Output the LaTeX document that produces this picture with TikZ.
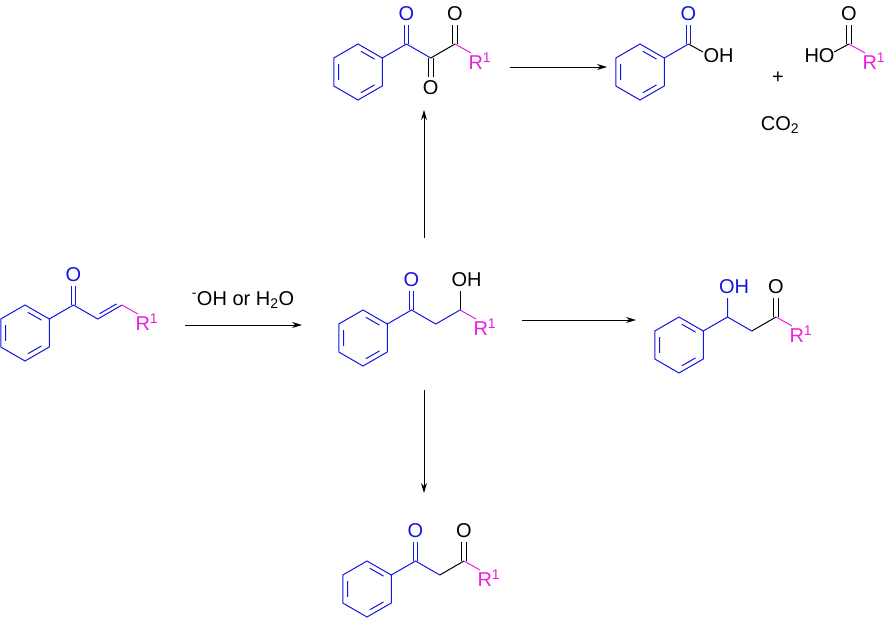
\documentclass[tikz,border=0pt]{standalone}
\usepackage{fontspec}
\setmainfont{Liberation Sans}
\definecolor{cb}{RGB}{20,20,225}
\definecolor{cp}{RGB}{235,30,225}
\usetikzlibrary{arrows.meta,calc}
\tikzset{
 benz/.pic={\draw (0,-28)--(24.25,-14)--(24.25,14)--(0,28)--(-24.25,14)--(-24.25,-14)--cycle;
  \draw (2.9,-20.7)--(16.5,-12.9) (-19.4,-7.8)--(-19.4,7.8) (16.5,12.9)--(2.9,20.7);},
 lbl/.style={font=\fontsize{20}{22}\selectfont, inner sep=1pt},
 rxn/.style={-{Stealth[length=10pt,width=6pt]}, line width=0.9pt},
}
\newcommand{\dbl}[3]{\draw[#1] ($(#2)+(-2.4,0)$)--($(#3)+(-2.4,0)$) ($(#2)+(2.4,0)$)--($(#3)+(2.4,0)$);}
\newcommand{\Rone}{R\textsuperscript{1}}
\begin{document}
\begin{tikzpicture}[x=1pt,y=-1pt,line width=1pt]
\useasboundingbox (0,0) rectangle (886,619);
% ---------- starting material
\begin{scope}[cb]
\pic at (25,333) {benz};
\coordinate (s1) at (49.25,319); \coordinate (s2) at (73.5,305);
\coordinate (s3) at (97.75,319); \coordinate (s4) at (122,305);
\draw (s1)--(s2)--(s3)--(s4);
\draw ($(s3)!0.15!(s4)+(-1.8,-3.2)$)--($(s3)!0.85!(s4)+(-1.8,-3.2)$);
\dbl{}{73.5,305}{73.5,286}
\node[lbl] (so) at (73.5,275) {O};
\end{scope}
\draw[cp] (s4)--(138,314);
\node[lbl,cp,anchor=west] (sr) at (134,322) {\Rone};
% ---------- middle
\begin{scope}[cb]
\pic at (363,338) {benz};
\coordinate (m1) at (387.25,324); \coordinate (m2) at (411.5,310);
\coordinate (m3) at (435.75,324); \coordinate (m4) at (460,310);
\draw (m1)--(m2)--(m3)--(m4);
\dbl{}{411.5,310}{411.5,291}
\node[lbl] (mo) at (411.5,280) {O};
\end{scope}
\draw (m4)--(460,291);
\node[lbl,anchor=west] (moh) at (450,280) {OH};
\draw[cp] (m4)--(476,319);
\node[lbl,cp,anchor=west] (mr) at (472,327) {\Rone};
% ---------- top triketone
\begin{scope}[cb]
\pic at (358,72) {benz};
\coordinate (t1) at (382.25,58); \coordinate (t2) at (406.5,44);
\coordinate (t3) at (430.75,58);
\draw (t1)--(t2)--(t3);
\dbl{}{406.5,44}{406.5,25}
\node[lbl] (to1) at (406.5,14) {O};
\end{scope}
\coordinate (t4) at (455,44);
\draw (t3)--(t4);
\dbl{}{430.75,58}{430.75,77}
\node[lbl] (to2) at (430.75,88) {O};
\dbl{}{455,44}{455,25}
\node[lbl] (to3) at (455,14) {O};
\draw[cp] (t4)--(471,53);
\node[lbl,cp,anchor=west] (tr) at (467,61) {\Rone};
% ---------- benzoic acid
\begin{scope}[cb]
\pic at (640,72) {benz};
\coordinate (b1) at (664.25,58); \coordinate (b2) at (688.5,44);
\draw (b1)--(b2);
\dbl{}{688.5,44}{688.5,25}
\node[lbl] (bo) at (688.5,14) {O};
\end{scope}
\draw (b2)--(703,52);
\node[lbl,anchor=west] (boh) at (702,56) {OH};
% ---------- right acid
\coordinate (a1) at (849,44);
\dbl{}{849,44}{849,25}
\node[lbl] (ao) at (849,14) {O};
\draw (a1)--(834,52);
\node[lbl,anchor=east] (aho) at (836,56) {HO};
\draw[cp] (a1)--(865,53);
\node[lbl,cp,anchor=west] (ar) at (861,61) {\Rone};
\node[lbl] (plus) at (778,78) {+};
\node[lbl] (co2) at (780,125) {CO\textsubscript{2}};
% ---------- right product
\begin{scope}[cb]
\pic at (679,345) {benz};
\coordinate (r1) at (703.25,331); \coordinate (r2) at (727.5,317);
\coordinate (r3) at (751.75,331);
\draw (r1)--(r2)--(r3) (r2)--(727.5,298);
\node[lbl,anchor=west] (roh) at (717.5,287) {OH};
\end{scope}
\coordinate (r4) at (776,317);
\draw (r3)--(r4);
\dbl{}{776,317}{776,298}
\node[lbl] (ro) at (776,287) {O};
\draw[cp] (r4)--(792,326);
\node[lbl,cp,anchor=west] (rr) at (788,334) {\Rone};
% ---------- bottom product
\begin{scope}[cb]
\pic at (367,589) {benz};
\coordinate (d1) at (391.25,575); \coordinate (d2) at (415.5,561);
\coordinate (d3) at (439.75,575);
\draw (d1)--(d2)--(d3);
\dbl{}{415.5,561}{415.5,542}
\node[lbl] (do1) at (415.5,531) {O};
\end{scope}
\coordinate (d4) at (464,561);
\draw (d3)--(d4);
\dbl{}{464,561}{464,542}
\node[lbl] (do2) at (464,531) {O};
\draw[cp] (d4)--(480,570);
\node[lbl,cp,anchor=west] (dr) at (476,578) {\Rone};
% ---------- arrows
\coordinate (a0s) at (185,325); \coordinate (a0e) at (302,325);
\draw[rxn] (a0s)--(a0e);
\node[lbl] (cond) at (243,300) {\textsuperscript{-}OH or H\textsubscript{2}O};
\coordinate (aus) at (424,238); \coordinate (aue) at (424,110);
\draw[rxn] (aus)--(aue);
\coordinate (ats) at (510,67); \coordinate (ate) at (607,67);
\draw[rxn] (ats)--(ate);
\coordinate (ars) at (522,320); \coordinate (are) at (636,320);
\draw[rxn] (ars)--(are);
\coordinate (ads) at (424,390); \coordinate (ade) at (424,493);
\draw[rxn] (ads)--(ade);
\end{tikzpicture}
\end{document}
